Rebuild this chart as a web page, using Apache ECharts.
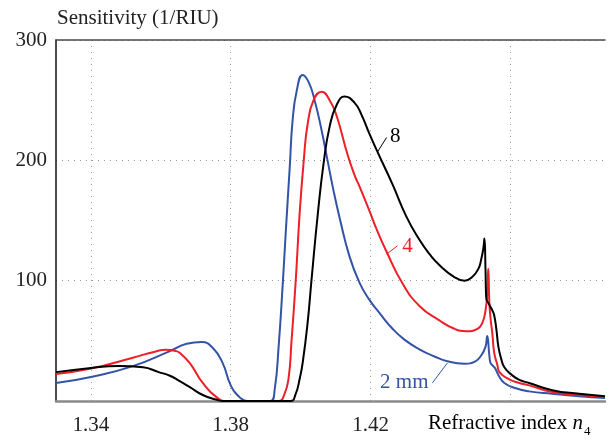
<!DOCTYPE html>
<html><head><meta charset="utf-8">
<script src="https://cdn.jsdelivr.net/npm/echarts@6/dist/echarts.min.js"></script>
<style>html,body{margin:0;padding:0;background:#fff}#c{width:608px;height:439px}</style>
</head><body><div id="c"></div>
<script>
// ---- data (x = refractive index n4, y = sensitivity 1/RIU) ----
const blueX = [1.3300,1.3400,1.3520,1.3626,1.3674,1.3717,1.3749,1.3777,1.3800,1.3826,1.3846,1.3914,1.3926,1.3937,1.3949,1.3957,1.3969,1.3977,1.3989,1.4006,1.4023,1.4040,1.4060,1.4077,1.4094,1.4111,1.4140,1.4169,1.4197,1.4226,1.4263,1.4297,1.4340,1.4383,1.4420,1.4469,1.4500,1.4517,1.4529,1.4534,1.4540,1.4543,1.4551,1.4557,1.4569,1.4583,1.4611,1.4654,1.4720,1.4797,1.4871];
const blueY = [15,20,29,41.5,47.5,49,44,31.5,13,3,0,0,10,45,98,138,195,233,258,271,265,250,225,200,175,153,120,98,84,73,60,51,43,37,33,31,33,38,45,54,38,32,29,27,20,15,11,8,6,4,2.5];

const redX = [1.3300,1.3400,1.3520,1.3583,1.3614,1.3643,1.3654,1.3683,1.3720,1.3760,1.3789,1.3937,1.3954,1.3966,1.3974,1.3986,1.3997,1.4009,1.4020,1.4037,1.4060,1.4083,1.4103,1.4134,1.4154,1.4169,1.4197,1.4217,1.4246,1.4291,1.4340,1.4397,1.4440,1.4474,1.4506,1.4520,1.4529,1.4534,1.4537,1.4540,1.4543,1.4549,1.4554,1.4563,1.4569,1.4597,1.4626,1.4654,1.4720,1.4797,1.4871];
const redY = [22.5,27,36,41,42.5,41.5,40,31.5,15,3,0,0,6,20,50,100,155,200,230,250,257,250,237,205,188,178,158,143,124,98,79,67,60,58,60,65,75,90,110,82,70,55,40,30,24,18,15,13,7.5,5,3.5];

const blackX = [1.3300,1.3400,1.3480,1.3549,1.3594,1.3626,1.3654,1.3683,1.3720,1.3760,1.3777,1.3971,1.3986,1.3997,1.4006,1.4020,1.4031,1.4049,1.4066,1.4083,1.4103,1.4126,1.4154,1.4174,1.4197,1.4220,1.4263,1.4303,1.4340,1.4369,1.4397,1.4440,1.4469,1.4491,1.4509,1.4517,1.4523,1.4526,1.4529,1.4531,1.4540,1.4549,1.4554,1.4560,1.4566,1.4574,1.4583,1.4603,1.4626,1.4654,1.4720,1.4797,1.4871];
const blackY = [24,27.5,29,28,24,21,16.5,11.5,5,1,0,0,6,18,32,65,100,155,198,228,246,253,248,238,222,207,180,153,134,122,113,103,100,103,110,118,127,135,110,86,80,75,71,60,45,35,28,22,17.5,15,9,6,4];

const seriesNames = ['2 mm','4','8'];
const xTickLabels = [1.34,1.38,1.42];
const yTickLabels = [100,200,300];

// annotation anchors in data units: [leaderStart, leaderEnd, textPos]
const note8 = [[1.4220,207],[1.4246,219],[1.4271,220]];
const note4 = [[1.4246,122],[1.4277,129],[1.4306,128]];
const note2 = [[1.4420,31.6],[1.4377,15],[1.4366,15]];

const BLUE = '#3353a6', RED = '#ee1f26', BLACK = '#000000';
const FONT = 'Liberation Serif';

function pairs(xs, ys){ return xs.map((x,i)=>[x, ys[i]]); }

const chart = echarts.init(document.getElementById('c'), null, {renderer:'canvas'});
const gridLineColors = ['rgba(0,0,0,0)','#9a9a9a','rgba(0,0,0,0)','rgba(0,0,0,0)'];
const SM = 0.5;
const option = {
  animation:false,
  grid:{left:56, right:2, top:40, bottom:38},
  xAxis:[{
    type:'value', min:1.33, max:1.4871, interval:0.01,
    axisLine:{show:true, onZero:false, lineStyle:{color:'#8a8a8a', width:2.5}},
    axisTick:{show:false},
    axisLabel:{margin:14, fontFamily:FONT, fontSize:21, color:'#222',
      formatter:v=>{ for(const t of xTickLabels){ if(Math.abs(v-t)<1e-6) return t.toFixed(2);} return ''; }},
    splitLine:{show:true, lineStyle:{color:gridLineColors, type:[1,5], width:1}}
  },{
    type:'value', position:'top', min:1.33, max:1.4871,
    axisLine:{show:true, onZero:false, lineStyle:{color:'#4a4a4a', width:1.5}},
    axisTick:{show:false}, axisLabel:{show:false}, splitLine:{show:false}
  }],
  yAxis:{
    type:'value', min:0, max:300, interval:100,
    axisLine:{show:true, lineStyle:{color:'#111', width:1.5}},
    axisTick:{show:false},
    axisLabel:{margin:9, fontFamily:FONT, fontSize:21, color:'#222',
      formatter:v=> yTickLabels.includes(v) ? String(v) : ''},
    splitLine:{show:true, lineStyle:{color:'#9a9a9a', type:[1,5], width:1}}
  },
  series:[
    {name:seriesNames[0], type:'line', data:pairs(blueX,blueY), showSymbol:false, smooth:SM, lineStyle:{color:BLUE, width:2}, itemStyle:{color:BLUE}},
    {name:seriesNames[1], type:'line', data:pairs(redX,redY), showSymbol:false, smooth:SM, lineStyle:{color:RED, width:2}, itemStyle:{color:RED}},
    {name:seriesNames[2], type:'line', data:pairs(blackX,blackY), showSymbol:false, smooth:SM, lineStyle:{color:BLACK, width:2}, itemStyle:{color:BLACK}}
  ],
  graphic:[
    {type:'text', left:57, top:8, style:{text:'Sensitivity (1/RIU)', font:'21px "Liberation Serif"', fill:'#222'}},
    {type:'text', left:428, top:413, style:{
      text:'{a|Refractive index }{n|n}{s|4}',
      rich:{
        a:{fontFamily:FONT, fontSize:21, color:'#222', lineHeight:24},
        n:{fontFamily:FONT, fontSize:21, fontStyle:'italic', color:'#222', lineHeight:24},
        s:{fontFamily:FONT, fontSize:13, color:'#222', lineHeight:24, verticalAlign:'bottom', padding:[0,0,-3,1]}
      }}}
  ]
};
chart.setOption(option);

function px(pt){ return chart.convertToPixel({xAxisIndex:0, yAxisIndex:0}, pt); }
function note(n, txt, color, align){
  const a = px(n[0]), b = px(n[1]), t = px(n[2]);
  return [
    {type:'line', shape:{x1:a[0], y1:a[1], x2:b[0], y2:b[1]}, style:{stroke:color, lineWidth:1}},
    {type:'text', x:t[0], y:t[1], style:{text:txt, font:'21px "Liberation Serif"', fill:color, textAlign:align, textVerticalAlign:'middle'}}
  ];
}
const extra = [].concat(note(note8,'8',BLACK,'center'), note(note4,'4',RED,'center'), note(note2,'2 mm',BLUE,'right'));
chart.setOption({graphic: option.graphic.concat(extra)});
</script></body></html>
